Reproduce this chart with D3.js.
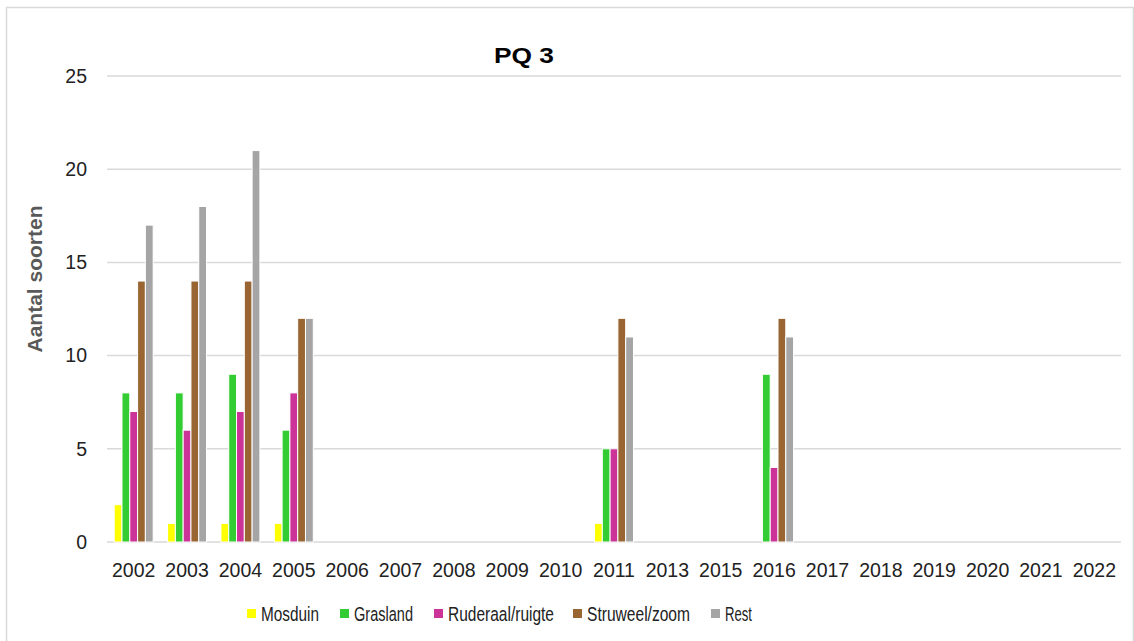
<!DOCTYPE html>
<html>
<head>
<meta charset="utf-8">
<script src="https://cdn.jsdelivr.net/npm/d3@7"></script>
<style>
  html, body { margin: 0; padding: 0; background: #fff; }
  svg { display: block; }
  text { font-family: "Liberation Sans", "DejaVu Sans", sans-serif; }
</style>
</head>
<body>
<div id="chart"></div>
<script>
// Years surveyed (x categories)
const years = ["2002","2003","2004","2005","2006","2007","2008","2009","2010","2011",
               "2013","2015","2016","2017","2018","2019","2020","2021","2022"];

// Number of species per vegetation group, per year
const mosduin  = [2, 1, 1, 1, 0, 0, 0, 0, 0, 1, 0, 0, 0, 0, 0, 0, 0, 0, 0];
const grasland = [8, 8, 9, 6, 0, 0, 0, 0, 0, 5, 0, 0, 9, 0, 0, 0, 0, 0, 0];
const ruderaal = [7, 6, 7, 8, 0, 0, 0, 0, 0, 5, 0, 0, 4, 0, 0, 0, 0, 0, 0];
const struweel = [14, 14, 14, 12, 0, 0, 0, 0, 0, 12, 0, 0, 12, 0, 0, 0, 0, 0, 0];
const rest     = [17, 18, 21, 12, 0, 0, 0, 0, 0, 11, 0, 0, 11, 0, 0, 0, 0, 0, 0];

const seriesNames = ["Mosduin", "Grasland", "Ruderaal/ruigte", "Struweel/zoom", "Rest"];
const seriesColors = ["#FFFF00", "#33CC33", "#CC3399", "#996633", "#A5A5A5"];
const seriesValues = [mosduin, grasland, ruderaal, struweel, rest];

const yTicks = [0, 5, 10, 15, 20, 25];

const W = 1134, H = 641;
const plot = { left: 107, right: 1121, top: 76, bottom: 542 };

const svg = d3.select("#chart").append("svg")
  .attr("width", W).attr("height", H);

// chart frame
svg.append("rect")
  .attr("x", 6.5).attr("y", 7.5)
  .attr("width", 1127).attr("height", 640)
  .attr("fill", "#fff").attr("stroke", "#d9d9d9").attr("stroke-width", 1.5);

const x = d3.scaleBand().domain(years).range([plot.left, plot.right]).padding(0);
const y = d3.scaleLinear().domain([0, 25]).range([plot.bottom, plot.top]);
const x1 = d3.scaleBand().domain(seriesNames).range([0, x.bandwidth() * 0.73]);
const groupOffset = x.bandwidth() * (1 - 0.73) / 2;

// horizontal gridlines
svg.append("g").selectAll("line").data(yTicks).join("line")
  .attr("x1", plot.left).attr("x2", plot.right)
  .attr("y1", d => y(d)).attr("y2", d => y(d))
  .attr("stroke", "#d9d9d9").attr("stroke-width", 1.5);

// y tick labels
const yAxis = d3.axisLeft(y).tickValues(yTicks).tickSize(0).tickPadding(0);
const gy = svg.append("g").attr("transform", `translate(${plot.left - 20},0)`).call(yAxis);
gy.select(".domain").remove();
gy.selectAll("text")
  .attr("font-size", 19.5).attr("fill", "#222")
  .style("font-family", "'Liberation Sans', sans-serif");

// x tick labels
const xAxis = d3.axisBottom(x).tickSize(0).tickPadding(0);
const gx = svg.append("g").attr("transform", `translate(0,${plot.bottom + 21})`).call(xAxis);
gx.select(".domain").remove();
gx.selectAll("text")
  .attr("font-size", 19.5).attr("fill", "#222").attr("dy", "0.71em")
  .style("font-family", "'Liberation Sans', sans-serif");

// bars
const groups = svg.append("g").selectAll("g").data(years).join("g")
  .attr("transform", d => `translate(${x(d) + groupOffset},0)`);

groups.selectAll("rect")
  .data((yr, i) => seriesNames.map((s, k) => ({ s, v: seriesValues[k][i], c: seriesColors[k] })))
  .join("rect")
  .filter(d => d.v > 0)
  .attr("x", d => x1(d.s))
  .attr("width", x1.bandwidth())
  .attr("y", d => y(d.v))
  .attr("height", d => y(0) - y(d.v))
  .attr("fill", d => d.c)
  .attr("stroke", "#fff").attr("stroke-width", 1);

// title
svg.append("text")
  .attr("x", 524).attr("y", 63)
  .attr("text-anchor", "middle")
  .attr("font-size", 22).attr("font-weight", "bold").attr("fill", "#000")
  .attr("textLength", 60).attr("lengthAdjust", "spacingAndGlyphs")
  .text("PQ 3");

// y axis title
svg.append("text")
  .attr("transform", `translate(42,279) rotate(-90)`)
  .attr("text-anchor", "middle")
  .attr("font-size", 21).attr("font-weight", "bold").attr("fill", "#595959")
  .text("Aantal soorten");

// legend (condensed text widths)
const legendX = [247, 340, 434, 573, 711];
const legendTextWidth = [58, 59, 106, 103, 27];
const lg = svg.append("g").selectAll("g").data(seriesNames).join("g")
  .attr("transform", (d, i) => `translate(${legendX[i]},614)`);
lg.append("rect")
  .attr("x", 0).attr("y", -5).attr("width", 9).attr("height", 9)
  .attr("fill", (d, i) => seriesColors[i]);
lg.append("text")
  .attr("x", 14).attr("y", 0).attr("dy", "0.35em")
  .attr("font-size", 20.5).attr("fill", "#222")
  .attr("textLength", (d, i) => legendTextWidth[i])
  .attr("lengthAdjust", "spacingAndGlyphs")
  .text(d => d);
</script>
</body>
</html>
